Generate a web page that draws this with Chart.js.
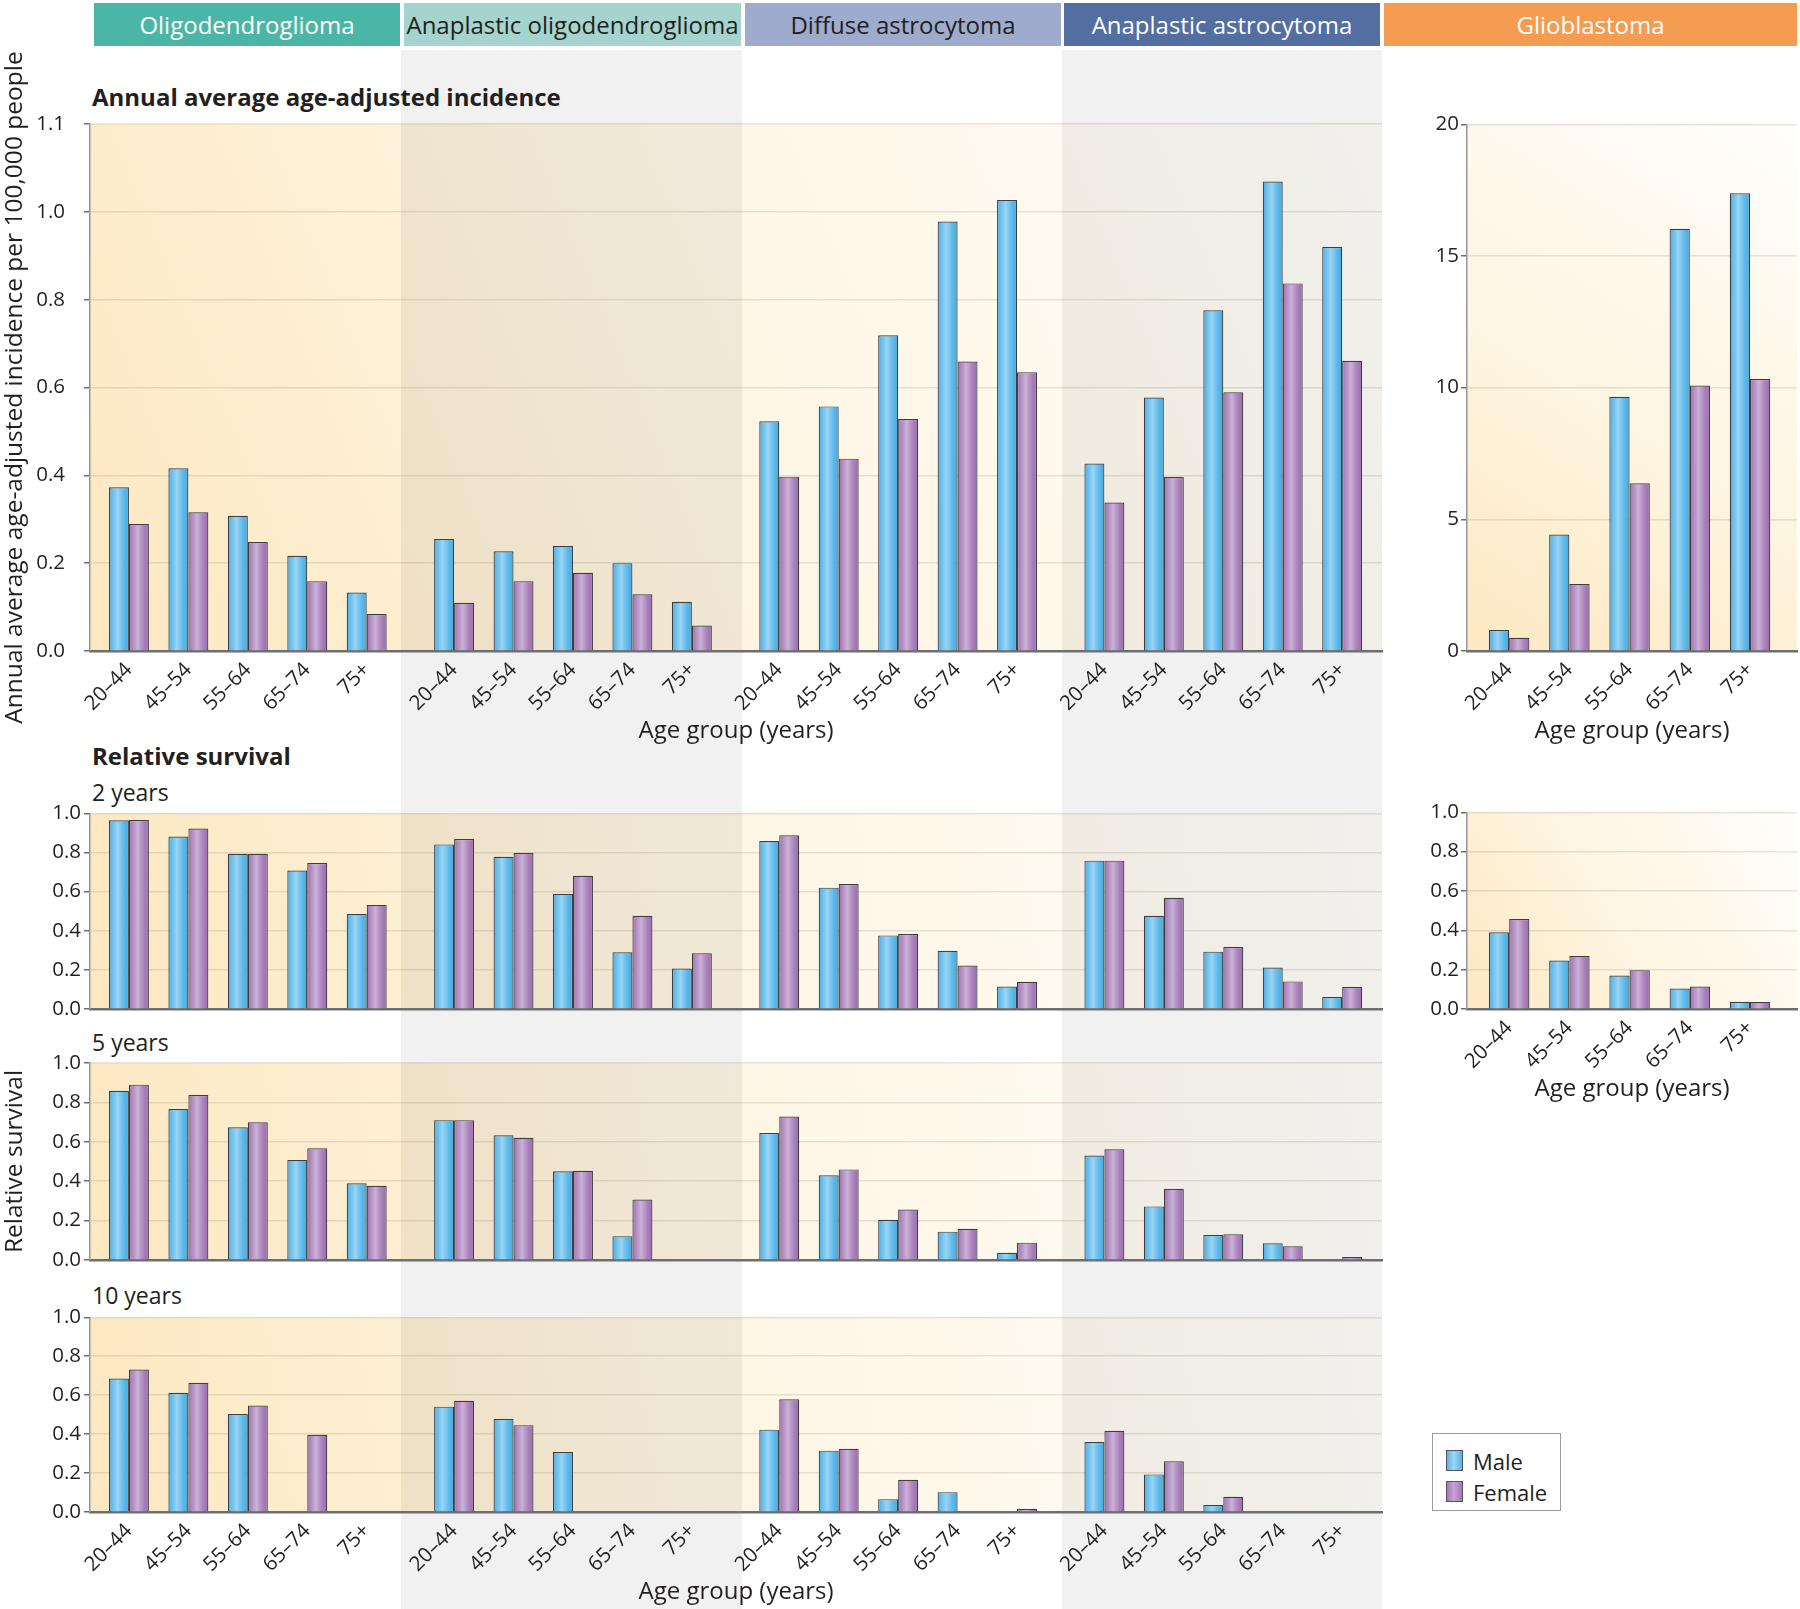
<!DOCTYPE html>
<html>
<head>
<meta charset="utf-8">
<script src="https://cdn.jsdelivr.net/npm/chart.js@4.4.0/dist/chart.umd.min.js"></script>
<style>
  html, body { margin: 0; padding: 0; background: #fff; }
  body { width: 1800px; height: 1609px; position: relative; overflow: hidden; font-family: 'Open Sans', sans-serif; color: #231f20; }
  .band { position: absolute; top: 50px; bottom: 0; background: #f1f1f1; }
  .head { position: absolute; top: 3px; height: 43px; line-height: 43px; text-align: center; font-size: 24px; white-space: nowrap; }
  .txt { position: absolute; line-height: 1; white-space: nowrap; font-size: 23px; }
  .bold { font-weight: bold; font-size: 24px; }
  .box { position: absolute; }
  canvas { display: block; }
  #legend { position: absolute; left: 1432px; top: 1433px; width: 129px; height: 78px; border: 1px solid #9a9a9a; background: #fff; box-sizing: border-box; padding: 11px 0 0 13px; }
  #legend .item { height: 31px; line-height: 24px; font-size: 22px; display: flex; align-items: center; }
  #legend .sw { width: 17px; height: 21px; border: 1px solid #555; box-sizing: border-box; margin-right: 10px; }
</style>
</head>
<body>
<div class="band" style="left:401px;width:341px"></div>
<div class="band" style="left:1062px;width:320px"></div>

<div id="heads"></div>

<div class="txt bold" style="left:92px;top:85px">Annual average age-adjusted incidence</div>
<div class="txt bold" style="left:92px;top:744px">Relative survival</div>
<div class="txt" style="left:92px;top:781px">2 years</div>
<div class="txt" style="left:92px;top:1031px">5 years</div>
<div class="txt" style="left:92px;top:1284px">10 years</div>

<div class="box" style="left:0;top:40px"><canvas id="incMain" width="1390" height="706"></canvas></div>
<div class="box" style="left:1395px;top:110px"><canvas id="incGlio" width="405" height="636"></canvas></div>
<div class="box" style="left:0;top:798px"><canvas id="s2Main" width="1390" height="229"></canvas></div>
<div class="box" style="left:1395px;top:798px"><canvas id="s2Glio" width="405" height="306"></canvas></div>
<div class="box" style="left:0;top:1029px"><canvas id="s5Main" width="1390" height="249"></canvas></div>
<div class="box" style="left:0;top:1302px"><canvas id="s10Main" width="1390" height="305"></canvas></div>

<div id="legend"></div>

<script>
const ageGroups = ['20–44', '45–54', '55–64', '65–74', '75+'];
const tumourTypes = ['Oligodendroglioma', 'Anaplastic oligodendroglioma', 'Diffuse astrocytoma', 'Anaplastic astrocytoma', 'Glioblastoma'];
const sexes = ['Male', 'Female'];

// five age groups for each of the first four tumour types, in order
const incidenceMale = [0.373, 0.416, 0.308, 0.217, 0.133, 0.255, 0.227, 0.239, 0.200, 0.112,
                       0.523, 0.557, 0.719, 0.978, 1.027, 0.427, 0.577, 0.776, 1.069, 0.920];
const incidenceFemale = [0.289, 0.316, 0.248, 0.159, 0.084, 0.110, 0.159, 0.178, 0.129, 0.058,
                         0.397, 0.438, 0.528, 0.659, 0.635, 0.338, 0.396, 0.589, 0.837, 0.661];
const glioIncidenceMale = [0.80, 4.42, 9.65, 16.03, 17.38];
const glioIncidenceFemale = [0.50, 2.54, 6.37, 10.08, 10.33];

const surv2Male = [0.964, 0.881, 0.793, 0.708, 0.485, 0.841, 0.778, 0.588, 0.290, 0.207,
                   0.859, 0.620, 0.376, 0.298, 0.115, 0.758, 0.476, 0.293, 0.212, 0.061];
const surv2Female = [0.966, 0.922, 0.793, 0.746, 0.532, 0.869, 0.797, 0.681, 0.476, 0.285,
                     0.888, 0.639, 0.383, 0.222, 0.139, 0.758, 0.568, 0.317, 0.141, 0.112];
const glioSurv2Male = [0.390, 0.246, 0.170, 0.104, 0.037];
const glioSurv2Female = [0.457, 0.270, 0.197, 0.114, 0.036];

const surv5Male = [0.859, 0.766, 0.674, 0.508, 0.389, 0.710, 0.633, 0.450, 0.121, null,
                   0.645, 0.430, 0.204, 0.144, 0.037, 0.530, 0.272, 0.127, 0.085, null];
const surv5Female = [0.890, 0.837, 0.699, 0.567, 0.377, 0.710, 0.620, 0.453, 0.307, null,
                     0.728, 0.460, 0.256, 0.158, 0.088, 0.562, 0.362, 0.131, 0.070, 0.015];

const surv10Male = [0.686, 0.612, 0.503, null, null, 0.541, 0.478, 0.308, null, null,
                    0.423, 0.315, 0.066, 0.102, null, 0.359, 0.193, 0.036, null, null];
const surv10Female = [0.732, 0.664, 0.547, 0.397, null, 0.571, 0.446, null, null, null,
                      0.579, 0.325, 0.166, null, 0.017, 0.417, 0.261, 0.078, null, null];

const incidenceTicks = ['0.0', '0.2', '0.4', '0.6', '0.8', '1.0', '1.1'];
const glioIncidenceTicks = ['0', '5', '10', '15', '20'];
const survivalTicks = ['0.0', '0.2', '0.4', '0.6', '0.8', '1.0'];

// layout
const GROUP_STEP = 5.47;
const X_MIN = -0.655, X_MAX = 21.08;
const GLIO_MIN = -0.7, GLIO_MAX = 4.78;
const BANDS = [[401, 742], [1062, 1382]];
const HEADS = [[94, 400, '#4cb6a6', '#fff'], [404, 741, '#a4d4cd', '#231f20'], [745, 1061, '#9eabcd', '#231f20'],
               [1064, 1380, '#536ea1', '#fff'], [1384, 1797, '#f39c52', '#fff']];
const MALE = '#52b5ea', FEMALE = '#a479b8';
const FONT = 'Open Sans';
const INK = '#231f20';

HEADS.forEach(([l, r, bg, fg], i) => {
  const d = document.createElement('div');
  d.className = 'head';
  d.style.cssText = `left:${l}px;width:${r - l}px;background:${bg};color:${fg}`;
  d.textContent = tumourTypes[i];
  document.getElementById('heads').appendChild(d);
});

const legend = document.getElementById('legend');
[MALE, FEMALE].forEach((c, i) => {
  const it = document.createElement('div');
  it.className = 'item';
  it.innerHTML = `<span class="sw" style="background:linear-gradient(90deg, ${c} 0%, ${i ? '#c6a4d4' : '#9fd6f4'} 45%, ${c} 100%)"></span>${sexes[i]}`;
  legend.appendChild(it);
});

const mainPos = [];
for (let g = 0; g < 4; g++) for (let i = 0; i < 5; i++) mainPos.push(g * GROUP_STEP + i);
const glioPos = [0, 1, 2, 3, 4];
const pts = (vals, pos) => vals.map((v, i) => ({x: pos[i], y: v}));

const panelBg = {
  id: 'panelBg',
  beforeDraw(chart, args, o) {
    const {ctx, chartArea: a} = chart;
    const g = ctx.createLinearGradient(a.left, a.bottom, a.right, a.top);
    g.addColorStop(0, '#fde8c1');
    g.addColorStop(0.45, '#fef5e2');
    g.addColorStop(1, '#fffefb');
    ctx.save();
    ctx.fillStyle = g;
    ctx.fillRect(a.left, a.top, a.width, a.height);
    if (o.bands) {
      ctx.fillStyle = 'rgba(0,0,0,0.055)';
      o.bands.forEach(([l, r]) => ctx.fillRect(l, a.top, Math.min(r, a.right) - l, a.height));
    }
    ctx.restore();
  },
  afterDatasetsDraw(chart) {
    const ctx = chart.ctx;
    ctx.save();
    chart.data.datasets.forEach((ds, di) => {
      chart.getDatasetMeta(di).data.forEach(bar => {
        const {x, y, base, width} = bar.getProps(['x', 'y', 'base', 'width'], true);
        if (!(Math.abs(base - y) > 2)) return;
        const l = x - width / 2 + 1.2, r = x + width / 2 - 1.2;
        const g = ctx.createLinearGradient(l, 0, r, 0);
        g.addColorStop(0, 'rgba(255,255,255,0)');
        g.addColorStop(0.42, 'rgba(255,255,255,0.42)');
        g.addColorStop(0.8, 'rgba(255,255,255,0.04)');
        g.addColorStop(1, 'rgba(0,0,0,0.07)');
        ctx.fillStyle = g;
        ctx.fillRect(l, Math.min(y, base) + 1.2, r - l, Math.abs(base - y) - 1.2);
      });
    });
    ctx.restore();
  }
};

function datasets(male, female, pos) {
  return [
    {label: sexes[0], data: pts(male, pos), backgroundColor: MALE},
    {label: sexes[1], data: pts(female, pos), backgroundColor: FEMALE}
  ];
}

function xScale(min, max, pos, labelled) {
  return {
    type: 'linear', min, max, offset: false,
    afterBuildTicks: s => { s.ticks = pos.map(v => ({value: v})); },
    afterFit: s => { s.height = labelled ? 95 : 4; },
    grid: {display: false, drawTicks: false},
    border: {display: true, color: '#6d6e71', width: 2.5},
    ticks: {display: labelled, autoSkip: false, minRotation: 45, maxRotation: 45, padding: 7,
            color: INK, font: {family: FONT, size: 20.5}, callback: (v, i) => ageGroups[i % 5]},
    title: {display: labelled, text: 'Age group (years)', color: INK, font: {family: FONT, size: 24},
            padding: {top: 0, bottom: 0}}
  };
}

function yScale(max, step, labels, width, pad, title, titleSize) {
  return {
    min: 0, max,
    afterFit: s => { s.width = width; },
    grid: {color: 'rgba(110,100,80,0.17)', lineWidth: 1.5, drawTicks: true, tickLength: 6, tickColor: '#6d6e71'},
    border: {display: true, color: '#939598', width: 1.5},
    ticks: {stepSize: step, padding: pad, color: INK, font: {family: FONT, size: 20.5}, callback: (v, i) => labels[i]},
    title: title ? {display: true, text: title, color: INK, font: {family: FONT, size: titleSize}, padding: {top: 0, bottom: 0}}
                 : {display: false}
  };
}

function makeChart(id, male, female, opts) {
  const glio = opts.glio;
  const pos = glio ? glioPos : mainPos;
  return new Chart(document.getElementById(id), {
    type: 'bar',
    data: {datasets: datasets(male, female, pos)},
    options: {
      responsive: false,
      animation: false,
      events: [],
      layout: {padding: {top: opts.padTop || 14, right: glio ? 3 : 8, bottom: opts.padBottom || 0, left: 0}},
      datasets: {bar: {categoryPercentage: 0.672, barPercentage: 1, borderColor: '#3d3d3f', borderWidth: 1.2}},
      scales: {
        x: glio ? xScale(GLIO_MIN, GLIO_MAX, pos, opts.labelled) : xScale(X_MIN, X_MAX, pos, opts.labelled),
        y: yScale(opts.max, opts.step, opts.ticks, glio ? 72 : 90, opts.pad, opts.title, opts.titleSize)
      },
      plugins: {
        legend: {display: false},
        tooltip: {enabled: false},
        panelBg: {bands: glio ? null : BANDS}
      }
    },
    plugins: [panelBg]
  });
}

makeChart('incMain', incidenceMale, incidenceFemale,
  {max: 1.2, step: 0.2, ticks: incidenceTicks, pad: 19, labelled: true, padTop: 84,
   title: 'Annual average age-adjusted incidence per 100,000 people', titleSize: 24.5});
makeChart('incGlio', glioIncidenceMale, glioIncidenceFemale,
  {glio: true, max: 20, step: 5, ticks: glioIncidenceTicks, pad: 2, labelled: true});
makeChart('s2Main', surv2Male, surv2Female,
  {max: 1, step: 0.2, ticks: survivalTicks, pad: 3, labelled: false, padBottom: 14});
makeChart('s2Glio', glioSurv2Male, glioSurv2Female,
  {glio: true, max: 1, step: 0.2, ticks: survivalTicks, pad: 2, labelled: true});
makeChart('s5Main', surv5Male, surv5Female,
  {max: 1, step: 0.2, ticks: survivalTicks, pad: 3, labelled: false, padTop: 34, padBottom: 14,
   title: 'Relative survival', titleSize: 24.5});
makeChart('s10Main', surv10Male, surv10Female,
  {max: 1, step: 0.2, ticks: survivalTicks, pad: 3, labelled: true});
</script>
</body>
</html>
